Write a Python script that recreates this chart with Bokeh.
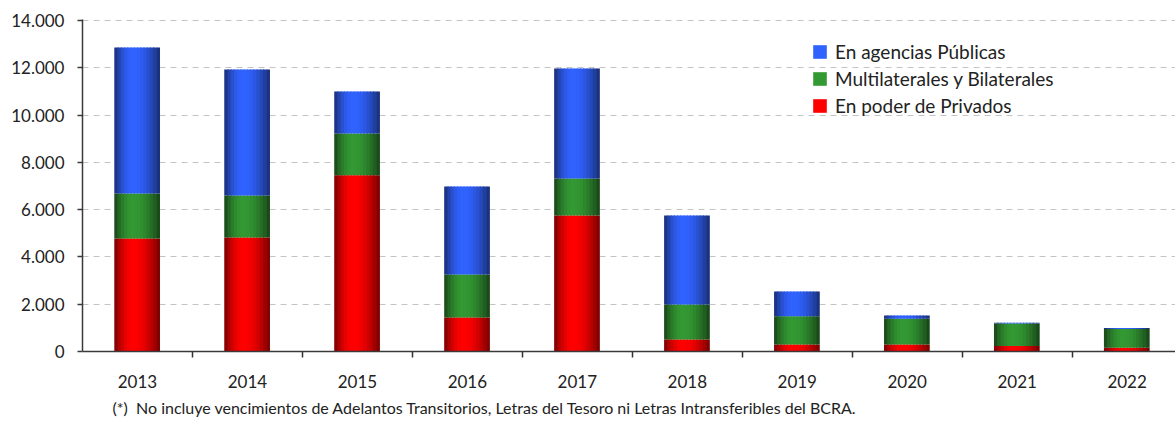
import math
from bokeh.plotting import figure
from bokeh.models import (Range1d, FixedTicker, CustomJSTickFormatter, Legend,
                          LegendItem, Title, ColumnDataSource)
from bokeh.transform import dodge
from bokeh.embed import file_html
from bokeh.resources import INLINE

# ---------------- data ----------------
years = ["2013", "2014", "2015", "2016", "2017", "2018", "2019", "2020", "2021", "2022"]
privados = [4780, 4820, 7450, 1440, 5750, 510, 300, 300, 230, 160]
multilaterales = [1900, 1780, 1770, 1820, 1570, 1480, 1190, 1080, 950, 790]
publicas = [6180, 5330, 1780, 3720, 4650, 3760, 1050, 140, 40, 40]
y_ticks = [0, 2000, 4000, 6000, 8000, 10000, 12000, 14000]
series_names = ["En agencias Públicas", "Multilaterales y Bilaterales", "En poder de Privados"]
note = "(*)\u00a0\u00a0No incluye vencimientos de Adelantos Transitorios, Letras del Tesoro ni Letras Intransferibles del BCRA."

source = ColumnDataSource(dict(
    x=[i + 0.5 for i in range(len(years))],
    year=years,
    privados=privados,
    multilaterales=multilaterales,
    publicas=publicas,
))

FONT = "Lato"
TXT = "#222222"

p = figure(width=1175, height=421,
           x_range=Range1d(0, 9.94), y_range=Range1d(0, 14040),
           output_backend="svg", toolbar_location=None,
           min_border_left=82, min_border_right=0, min_border_top=19,
           min_border_bottom=70)
p.outline_line_color = None
p.background_fill_color = "white"
p.border_fill_color = "white"

# ----- cylinder-like shading via thin strips -----
def mix(c1, c2, w):
    a = [int(c1[i:i + 2], 16) for i in (1, 3, 5)]
    b = [int(c2[i:i + 2], 16) for i in (1, 3, 5)]
    return "#%02x%02x%02x" % tuple(round(a[k] + (b[k] - a[k]) * w) for k in range(3))

edge = {"privados": "#6a0000", "multilaterales": "#163c16", "publicas": "#172a68"}
peak = {"privados": "#ff0000", "multilaterales": "#339933", "publicas": "#3062ff"}
stackers = ["privados", "multilaterales", "publicas"]

bar_w = 0.41
n_strips = 14
strip_renderers = []
for k in range(n_strips):
    t = (k + 0.5) / n_strips
    d = (t - 0.42) / (0.42 if t < 0.42 else 0.58)
    w = max(0.0, math.cos(d * math.pi / 2)) ** 0.8
    cols = [mix(edge[s], peak[s], w) for s in stackers]
    off = -bar_w / 2 + (k + 0.5) * bar_w / n_strips
    rs = p.vbar_stack(stackers, x=dodge("x", off, range=p.x_range),
                      width=bar_w / n_strips * (1.0 if k == n_strips - 1 else 1.4),
                      color=cols, line_color=None, source=source)
    strip_renderers.append(rs)

mid = int(n_strips * 0.42)
legend = Legend(items=[
    LegendItem(label=series_names[0], renderers=[strip_renderers[mid][2]]),
    LegendItem(label=series_names[1], renderers=[strip_renderers[mid][1]]),
    LegendItem(label=series_names[2], renderers=[strip_renderers[mid][0]]),
], location=(729, 234))
legend.border_line_color = None
legend.background_fill_alpha = 0
legend.padding = 0
legend.margin = 0
legend.spacing = 4
legend.glyph_width = 17
legend.glyph_height = 17
legend.label_height = 17
legend.label_standoff = 7
legend.label_text_font = FONT
legend.label_text_font_size = "19px"
legend.label_text_color = TXT
p.add_layout(legend, "center")

# ----- axes -----
p.xaxis.ticker = FixedTicker(ticks=[i + 0.5 for i in range(len(years))],
                             minor_ticks=list(range(1, len(years))))
p.xaxis.formatter = CustomJSTickFormatter(args=dict(labels=years),
                                          code="return labels[Math.floor(tick)] || '';")
p.xaxis.major_tick_out = 0
p.xaxis.major_tick_in = 0
p.xaxis.minor_tick_out = 6
p.xaxis.minor_tick_in = 0
p.xaxis.minor_tick_line_color = "#333333"
p.xaxis.minor_tick_line_width = 1.5
p.xaxis.major_label_standoff = 17

p.yaxis.ticker = FixedTicker(ticks=y_ticks)
p.yaxis.formatter = CustomJSTickFormatter(
    code="return tick.toFixed(0).replace(/\\B(?=(\\d{3})+(?!\\d))/g, '.');")
p.yaxis.major_tick_out = 5
p.yaxis.major_tick_in = 0
p.yaxis.major_label_standoff = 13

for ax in (p.xaxis, p.yaxis):
    ax.axis_line_color = "#3a3a3a"
    ax.axis_line_width = 1.5
    ax.major_tick_line_color = "#3a3a3a"
    ax.major_tick_line_width = 1.5
    ax.major_label_text_font = FONT
    ax.major_label_text_font_size = "17px"
    ax.major_label_text_color = TXT
p.yaxis.minor_tick_line_color = None

p.xgrid.grid_line_color = None
p.ygrid.grid_line_color = "#c4c4c4"
p.ygrid.grid_line_dash = "6 5"
p.ygrid.grid_line_width = 1.2

t = Title(text=note, align="left", offset=30, text_font=FONT,
          text_font_size="16px", text_font_style="normal", text_color=TXT)
p.add_layout(t, "below")

open("out.html", "w").write(file_html(p, INLINE))
